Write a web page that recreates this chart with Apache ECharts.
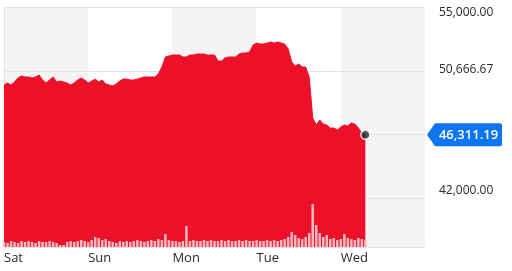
<!DOCTYPE html>
<html>
<head>
<meta charset="utf-8">
<script src="https://cdn.jsdelivr.net/npm/echarts@6/dist/echarts.min.js"></script>
<style>
  html, body { margin: 0; padding: 0; background: #ffffff; }
  #chart { width: 512px; height: 271px; }
</style>
</head>
<body>
<div id="chart"></div>
<script>
// ---- data ----
const days = ['Sat', 'Sun', 'Mon', 'Tue', 'Wed'];
const hoursPerDay = 24;
const xMax = 120; // hours shown (5 days)
// hourly prices starting Sat 00:00
const prices = [
  49711, 49847, 49711, 49915, 50189, 50325, 50257, 50257, 50189, 50257,
  50393, 50052, 49847, 50052, 50257, 49915, 49984, 49915, 49847, 49711,
  49847, 50052, 50189, 50052, 49847, 49984, 50120, 49915, 50052, 49779,
  49711, 49642, 49779, 49984, 50120, 50120, 50052, 50052, 50120, 50189,
  50257, 50257, 50257, 50257, 50462, 50939, 51622, 51690, 51758, 51758,
  51758, 51622, 51622, 51758, 51758, 51826, 51826, 51826, 51758, 51758,
  51758, 51348, 51348, 51553, 51622, 51622, 51622, 51826, 51895, 51895,
  51963, 52441, 52577, 52509, 52509, 52577, 52646, 52577, 52646, 52577,
  52509, 52168, 51280, 51007, 51144, 50939, 50939, 50257, 47458, 46981,
  47322, 47049, 46981, 46776, 46776, 46639, 46844, 46981, 46912, 47117,
  47049, 46776, 46434, 46311.19
];
// hourly volume (relative units)
const volumes = [
  5, 4, 6, 5, 4, 6, 5, 6, 5, 4, 6, 5, 5, 6, 5, 4,
  2, 2,
  5, 6, 5, 6, 7, 6, 5, 7, 10, 9, 7, 8, 6,
  5, 4, 6, 5, 6, 5, 6, 7, 6, 5, 6, 7, 6, 8, 7,
  13,
  7, 6, 6, 5,
  6, 21,
  6, 7, 6, 6, 7, 6, 7, 6, 6, 7, 6, 7, 6, 6, 7, 6, 7, 6, 6, 7, 6, 6, 7, 6, 7, 6, 7, 8,
  10, 15, 12, 9, 8, 10, 14, 43, 22, 14, 10, 12, 8, 9, 7, 8, 13, 9, 8, 7, 9, 8, 7
];
const yMin = 38654;
const yMax = 55000;
const yTicks = [42000, 46333.33, 50666.67, 55000];
const yLabelTicks = [42000, 50666.67, 55000];
const volumeMax = 240;

// ---- build ----
const fmt = v => Number(v).toLocaleString('en-US', { minimumFractionDigits: 2, maximumFractionDigits: 2 });
const priceData = prices.map((p, i) => [i, p]);
const volData = volumes.map((v, i) => [i, v]);
const last = priceData[priceData.length - 1];
const FONT = 'Open Sans';
const tagPath = 'path://M0,11.5 L8,0 L73,0 Q75,0 75,2 L75,21 Q75,23 73,23 L8,23 Z';

const chart = echarts.init(document.getElementById('chart'), null, { renderer: 'canvas' });
chart.setOption({
  animation: false,
  grid: { left: 4, right: 87, top: 7.5, bottom: 24, containLabel: false },
  xAxis: {
    type: 'value', min: 0, max: xMax, interval: hoursPerDay,
    axisLine: { show: true, lineStyle: { color: '#e3e3e6', width: 1 } },
    axisTick: { show: false },
    splitLine: { show: false },
    splitArea: { show: true, areaStyle: { color: ['#f4f4f4', '#ffffff'] } },
    axisLabel: {
      margin: 5, align: 'left', fontFamily: FONT, fontSize: 13, color: '#232a31',
      showMaxLabel: false,
      formatter: v => days[Math.round(v / hoursPerDay)] || ''
    }
  },
  yAxis: [{
    type: 'value', position: 'right', min: yMin, max: yMax,
    axisLine: { show: true, lineStyle: { color: '#e3e3e6' } },
    axisTick: { show: false, customValues: yTicks },
    splitLine: { show: false },
    axisLabel: {
      customValues: yLabelTicks,
      margin: 14, fontFamily: FONT, fontSize: 12, color: '#232a31',
      formatter: v => {
        const s = fmt(v);
        if (v >= yMax) return '{t|' + s + '}';
        if (v <= 42000) return '{b|' + s + '}';
        return '{n|' + s + '}';
      },
      rich: {
        t: { fontFamily: FONT, fontSize: 12, color: '#232a31', padding: [11, 0, 0, 0] },
        b: { fontFamily: FONT, fontSize: 12, color: '#232a31', padding: [0, 0, 14, 0] },
        n: { fontFamily: FONT, fontSize: 12, color: '#232a31', padding: [0, 0, 2, 0] }
      }
    }
  }, {
    type: 'value', min: 0, max: volumeMax, show: false,
    splitLine: { show: false }
  }],
  series: [{
    type: 'line', name: 'grid', data: [], yAxisIndex: 0, z: 1,
    symbol: 'none', silent: true,
    markLine: {
      silent: true, symbol: 'none', animation: false, z: 1,
      label: { show: false },
      lineStyle: { color: '#e4e4e4', width: 1, type: 'solid' },
      data: yTicks.map(v => ({ yAxis: v }))
    }
  }, {
    type: 'line', name: 'price', data: priceData, yAxisIndex: 0,
    symbol: 'none', z: 3,
    lineStyle: { color: '#ec1029', width: 1 },
    areaStyle: { color: '#ec1029', opacity: 1 }
  }, {
    type: 'bar', name: 'volume', data: volData, yAxisIndex: 1,
    barWidth: 2.5, z: 4,
    itemStyle: { color: '#f8b9c2' }
  }, {
    type: 'scatter', name: 'last', data: [last], yAxisIndex: 0, z: 6,
    symbolSize: 9,
    itemStyle: { color: '#232a31', borderColor: '#ffffff', borderWidth: 1.5 },
    markPoint: {
      silent: true,
      symbolKeepAspect: false,
      data: [{
        coord: [xMax, last[1]],
        symbol: tagPath,
        symbolSize: [75, 23],
        symbolOffset: [39.5, 0],
        itemStyle: { color: '#0f74f2' },
        label: {
          show: true, position: 'inside', offset: [4, 0],
          fontFamily: FONT, fontSize: 13, fontWeight: 600, color: '#ffffff',
          formatter: () => fmt(last[1])
        }
      }]
    }
  }]
});
</script>
</body>
</html>
